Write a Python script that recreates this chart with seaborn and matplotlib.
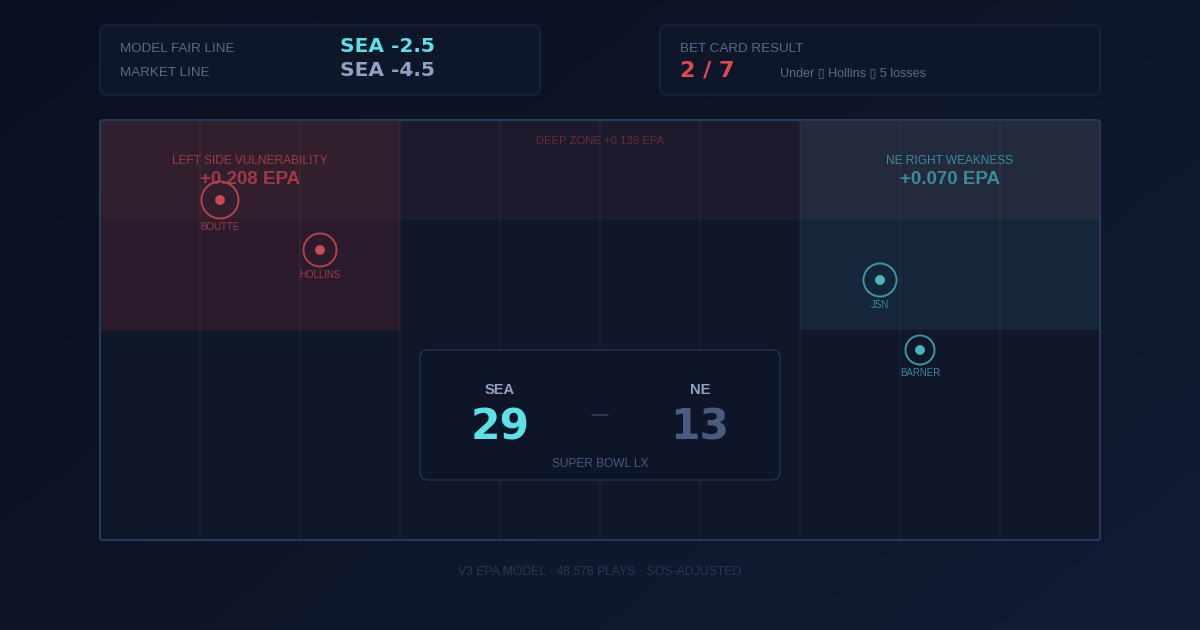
import numpy as np
import pandas as pd
import matplotlib
matplotlib.use("Agg")
import matplotlib.pyplot as plt
from matplotlib.patches import FancyBboxPatch, Rectangle, Circle
from matplotlib.colors import LinearSegmentedColormap
import seaborn as sns

# ---------------- data ----------------
players = ["BOUTTE", "HOLLINS", "JSN", "BARNER"]
player_x = [220, 320, 880, 920]
player_y = [200, 250, 280, 350]
player_side = ["left", "left", "right", "right"]
player_ring = [18.5, 16.5, 16.5, 14.5]

zone_names = ["LEFT SIDE VULNERABILITY", "DEEP ZONE", "NE RIGHT WEAKNESS"]
zone_epa = [0.208, 0.139, 0.070]

teams = ["SEA", "NE"]
scores = [29, 13]
game_name = "SUPER BOWL LX"

model_line = "SEA -2.5"
market_line = "SEA -4.5"
bet_wins = 2
bet_total = 7
bet_note = "Under \u25af Hollins \u25af 5 losses"
footer = "V3 EPA MODEL \u00b7 48,578 PLAYS \u00b7 SOS-ADJUSTED"

# ---------------- style ----------------
RED_TXT = "#a03a46"
CYAN_TXT = "#3a8c9c"
LABEL = "#5a6b8c"
SANS = ["Liberation Sans", "DejaVu Sans"]
BOLD = ["DejaVu Sans"]

sns.set_style("dark")
plt.rcParams["font.family"] = SANS

fig = plt.figure(figsize=(12, 6.3), dpi=100)
ax = fig.add_axes([0, 0, 1, 1])
ax.set_xlim(0, 1200)
ax.set_ylim(630, 0)
ax.axis("off")

# background gradient
gx, gy = np.meshgrid(np.linspace(0, 1, 240), np.linspace(0, 1, 126))
grad = (gx * 0.6 + gy * 0.4)
bg_cmap = LinearSegmentedColormap.from_list("bg", ["#0a1020", "#0e1628", "#121b35"])
ax.imshow(grad, extent=[0, 1200, 630, 0], cmap=bg_cmap, aspect="auto", zorder=0)

def rbox(x0, y0, x1, y1, fc, ec, r=8, lw=1.0, z=1):
    p = FancyBboxPatch((x0, y0), x1 - x0, y1 - y0,
                       boxstyle=f"round,pad=0,rounding_size={r}",
                       fc=fc, ec=ec, lw=lw, zorder=z)
    ax.add_patch(p)

# ---------------- top cards ----------------
rbox(100, 25, 540, 95, "#0e1629", "#1c2842")
rbox(660, 25, 1100, 95, "#0e1629", "#1c2842")

ax.text(120, 48.5, "MODEL FAIR LINE", color=LABEL, fontsize=9.6, va="center", ha="left", zorder=5)
ax.text(120, 73.5, "MARKET LINE", color=LABEL, fontsize=9.6, va="center", ha="left", zorder=5)
ax.text(340, 47, model_line, color="#5ce1e6", fontsize=14.5, fontweight="bold",
        family=BOLD, va="center", ha="left", zorder=5)
ax.text(340, 71, market_line, color="#93a2c2", fontsize=14.5, fontweight="bold",
        family=BOLD, va="center", ha="left", zorder=5)

ax.text(680, 48.5, "BET CARD RESULT", color=LABEL, fontsize=9.6, va="center", ha="left", zorder=5)
ax.text(680, 71, f"{bet_wins} / {bet_total}", color="#e04a4f", fontsize=16, fontweight="bold",
        family=BOLD, va="center", ha="left", zorder=5)
ax.text(780, 73.5, bet_note, color=LABEL, fontsize=9, va="center", ha="left", zorder=5)

# ---------------- field ----------------
ax.add_patch(Rectangle((100, 120), 1000, 420, fc="#0f1729", ec="none", zorder=1))
# zones
ax.add_patch(Rectangle((100, 120), 300, 210, fc="#2a1c2c", ec="none", zorder=2))
ax.add_patch(Rectangle((100, 120), 300, 100, fc="#311f2e", ec="none", zorder=2))
ax.add_patch(Rectangle((400, 120), 400, 100, fc="#1c1a2c", ec="none", zorder=2))
ax.add_patch(Rectangle((800, 120), 300, 100, fc="#222a3b", ec="none", zorder=2))
ax.add_patch(Rectangle((800, 220), 300, 110, fc="#15253a", ec="none", zorder=2))
# grid lines
for gxp in range(200, 1100, 100):
    ax.plot([gxp, gxp], [120, 540], color="#ffffff", alpha=0.045, lw=1.2, zorder=3)
# border
rbox(100, 120, 1100, 540, "none", "#283a5a", r=3, lw=1.5, z=4)

# zone labels
ax.text(250, 161, zone_names[0], color=RED_TXT, fontsize=8.6, ha="center", va="center", zorder=5)
ax.text(250, 179, f"+{zone_epa[0]:.3f} EPA", color=RED_TXT, fontsize=13.5, fontweight="bold",
        ha="center", va="center", zorder=5)
ax.text(600, 141, f"{zone_names[1]} +{zone_epa[1]:.3f} EPA", color="#6b2b3a", fontsize=8.2,
        ha="center", va="center", zorder=5)
ax.text(950, 161, zone_names[2], color=CYAN_TXT, fontsize=8.6, ha="center", va="center", zorder=5)
ax.text(950, 179, f"+{zone_epa[2]:.3f} EPA", color=CYAN_TXT, fontsize=13.5, fontweight="bold",
        ha="center", va="center", zorder=5)

# players
df = pd.DataFrame({"name": players, "x": player_x, "y": player_y,
                   "side": player_side, "ring": player_ring})
pal = {"left": "#cf4a53", "right": "#4ab5bf"}
ring_col = {"left": "#b4414b", "right": "#3a96a3"}
sns.scatterplot(data=df, x="x", y="y", hue="side", palette=pal, s=50,
                edgecolor="none", legend=False, ax=ax, zorder=7)
for _, r in df.iterrows():
    ax.add_patch(Circle((r.x, r.y), r.ring, fc="none", ec=ring_col[r.side], lw=1.4, zorder=6))
    ax.text(r.x, r.y + r.ring + 9, r["name"], color=RED_TXT if r.side == "left" else CYAN_TXT,
            fontsize=7, ha="center", va="center", zorder=6)

# ---------------- score card ----------------
rbox(420, 350, 780, 480, "#0d1527", "#1e2c48", r=8, lw=1.3, z=8)
for tx, team, sc, col in zip([500, 700], teams, scores, ["#5ce1e6", "#4b5b80"]):
    ax.text(tx, 390.5, team, color="#93a2c2", fontsize=10.5, fontweight="bold",
            ha="center", va="center", zorder=9)
    ax.text(tx, 427, str(sc), color=col, fontsize=30.5, fontweight="bold", family=BOLD,
            ha="center", va="center", zorder=9)
ax.plot([592, 608], [415, 415], color="#34425f", lw=1.2, zorder=9)
ax.text(600, 464, game_name, color="#4a5b80", fontsize=8.6, ha="center", va="center", zorder=9)

# ---------------- footer ----------------
ax.text(600, 571, footer, color="#2a3a5a", fontsize=8.8, ha="center", va="center", zorder=5)

fig.savefig("out.png", dpi=100, facecolor="#0b1120")
